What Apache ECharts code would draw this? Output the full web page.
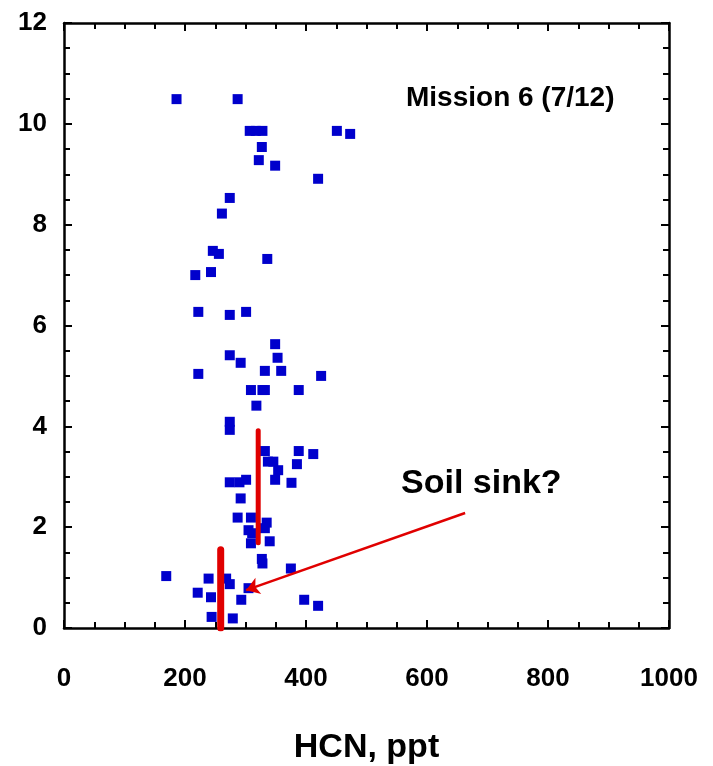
<!DOCTYPE html>
<html>
<head>
<meta charset="utf-8">
<script src="https://cdn.jsdelivr.net/npm/echarts@6/dist/echarts.min.js"></script>
<style>
  html, body { margin: 0; padding: 0; background: #fff; }
  #chart { width: 713px; height: 766px; }
</style>
</head>
<body>
<div id="chart"></div>
<script>
// HCN mixing ratio (ppt) against altitude (km) for Mission 6 on 7/12
const hcnPpt = [
  186, 287, 307, 317, 328, 451, 473, 327, 322, 349, 420, 274, 261, 246, 256, 336, 217, 243,
  222, 274, 301, 349, 353, 274, 292, 332, 359, 222, 425, 309, 328, 332, 388, 318, 274, 274,
  332, 388, 412, 337, 346, 385, 354, 274, 290, 301, 349, 376, 292,
  287, 309, 335, 305, 311, 332, 309, 340, 327, 328, 375, 169, 239, 268, 274, 221, 243, 305,
  293, 397, 420, 244, 279
];
const altitudeKm = [
  10.49, 10.49, 9.86, 9.86, 9.86, 9.86, 9.80, 9.54, 9.28, 9.17, 8.91, 8.53, 8.22, 7.48, 7.42, 7.32, 7.00, 7.06,
  6.27, 6.21, 6.27, 5.63, 5.36, 5.41, 5.26, 5.10, 5.10, 5.04, 5.00, 4.72, 4.72, 4.72, 4.72, 4.41, 4.09, 3.93,
  3.51, 3.51, 3.45, 3.30, 3.30, 3.25, 3.13, 2.89, 2.89, 2.94, 2.94, 2.88, 2.57,
  2.19, 2.19, 2.09, 1.94, 1.88, 1.98, 1.68, 1.72, 1.37, 1.28, 1.18, 1.03, 0.98, 0.98, 0.87, 0.70, 0.61, 0.79,
  0.56, 0.56, 0.44, 0.22, 0.19
];

// Background level bars (ppt, km)
const upperBar = [[321, 1.69], [321, 3.91]];
const lowerBar = [[259, 0.0], [259, 1.55]];
// Annotation arrow from label to the low-altitude points
const arrowFrom = [663, 2.28];
const arrowTo = [301, 0.75];

const xTicks = [0, 200, 400, 600, 800, 1000];
const yTicks = [0, 2, 4, 6, 8, 10, 12];

const FONT = '"Liberation Sans", Arial, sans-serif';

const points = hcnPpt.map((v, i) => [v, altitudeKm[i]]);

const axisLineStyle = { color: '#000', width: 2.5 };

function xAxisDef(pos, labels) {
  return {
    type: 'value', position: pos, min: xTicks[0], max: xTicks[xTicks.length - 1], interval: 200,
    axisLine: { show: true, onZero: false, lineStyle: axisLineStyle },
    axisTick: { show: true, inside: true, length: 8, lineStyle: { color: '#000', width: 2 } },
    minorTick: { show: true, splitNumber: 4, length: 6, lineStyle: { color: '#000', width: 2 } },
    splitLine: { show: false },
    axisLabel: labels ? {
      show: true, margin: 38, color: '#000', fontFamily: FONT, fontWeight: 'bold', fontSize: 26,
      formatter: (v) => String(v)
    } : { show: false },
    name: labels ? 'HCN, ppt' : '',
    nameLocation: 'middle', nameGap: 103,
    nameTextStyle: { color: '#000', fontFamily: FONT, fontWeight: 'bold', fontSize: 34 }
  };
}

function yAxisDef(pos, labels) {
  return {
    type: 'value', position: pos, min: yTicks[0], max: yTicks[yTicks.length - 1], interval: 2,
    axisLine: { show: true, onZero: false, lineStyle: axisLineStyle },
    axisTick: { show: true, inside: true, length: 8, lineStyle: { color: '#000', width: 2 } },
    minorTick: { show: true, splitNumber: 4, length: 6, lineStyle: { color: '#000', width: 2 } },
    splitLine: { show: false },
    axisLabel: labels ? {
      show: true, margin: 17, color: '#000', fontFamily: FONT, fontWeight: 'bold', fontSize: 26
    } : { show: false }
  };
}

const chart = echarts.init(document.getElementById('chart'), null, { renderer: 'canvas' });

chart.setOption({
  animation: false,
  backgroundColor: '#fff',
  grid: { left: 64, right: 44, top: 23, bottom: 138, containLabel: false, outerBoundsMode: 'none' },
  xAxis: [xAxisDef('bottom', true), xAxisDef('top', false)],
  yAxis: [yAxisDef('left', true), yAxisDef('right', false)],
  graphic: [
    {
      type: 'text', left: 406, top: 84,
      style: { text: 'Mission 6 (7/12)', fill: '#000', font: 'bold 28px ' + FONT }
    },
    {
      type: 'text', left: 401, top: 467,
      style: { text: 'Soil sink?', fill: '#000', font: 'bold 34px ' + FONT }
    }
  ],
  series: [
    {
      type: 'scatter', data: points, symbol: 'rect', symbolSize: 10,
      itemStyle: { color: '#0000CC', opacity: 1 }, z: 3
    },
    {
      type: 'line', data: upperBar, symbol: 'none',
      lineStyle: { color: '#E00000', width: 5, cap: 'round' }, z: 4
    },
    {
      type: 'line', data: lowerBar, symbol: 'none',
      lineStyle: { color: '#E00000', width: 7, cap: 'round' }, z: 4
    },
    {
      type: 'scatter', data: [], z: 5,
      markLine: {
        silent: true, symbol: ['none', 'arrow'], symbolSize: 13,
        lineStyle: { color: '#E00000', width: 2.5, type: 'solid' },
        label: { show: false },
        emphasis: { disabled: true },
        data: [[{ coord: arrowFrom }, { coord: arrowTo }]]
      }
    }
  ]
});
</script>
</body>
</html>
